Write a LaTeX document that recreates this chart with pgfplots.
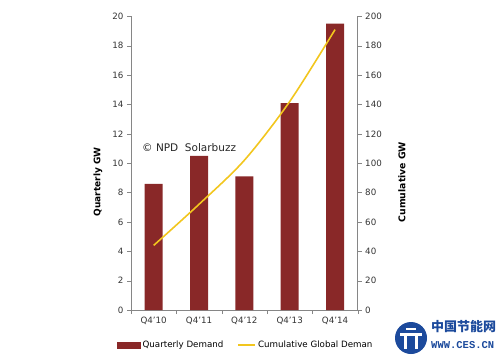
\documentclass[border=0pt]{standalone}
\usepackage{pgfplots}
\pgfplotsset{compat=1.18}
\usepackage{fontspec}
\setmainfont{DejaVu Sans}
\newfontfamily\cjk{Noto Sans CJK SC}
\newfontfamily\wmono{Liberation Mono}
\definecolor{barred}{RGB}{137,40,40}
\definecolor{lineyellow}{RGB}{242,198,30}
\definecolor{axgray}{RGB}{134,134,134}
\definecolor{cesblue}{RGB}{28,74,156}
\begin{document}
\begin{tikzpicture}
\path[use as bounding box] (0,0) rectangle (500pt,357pt);
\begin{axis}[
  at={(131pt,47pt)}, anchor=south west, scale only axis,
  width=226.7pt, height=293.6pt,
  xmin=-0.5, xmax=4.5, ymin=0, ymax=20,
  axis x line*=bottom, axis y line*=left,
  axis line style={axgray, line width=0.8pt},
  xtick={0,...,4}, xticklabels={Q4'10,Q4'11,Q4'12,Q4'13,Q4'14},
  minor xtick={-0.5,0.5,1.5,2.5,3.5,4.5},
  ytick={0,2,...,20},
  tick align=outside, major tick length=4pt, minor tick length=4pt,
  x tick style={draw=none}, minor x tick style={draw=axgray},
  y tick style={axgray},
  ticklabel style={font=\fontsize{8.7}{10}\selectfont, text=black!80},
  /pgf/number format/assume math mode=true,
  ylabel={Quarterly GW},
  ylabel style={font=\fontsize{9}{10}\selectfont\bfseries, at={(rel axis cs:-0.146,0.436)}, anchor=center},
  ybar, bar width=18pt,
]
\addplot[fill=barred, draw=none] coordinates {(0,8.6)(1,10.5)(2,9.1)(3,14.1)(4,19.5)};
\end{axis}
\begin{axis}[
  at={(131pt,47pt)}, anchor=south west, scale only axis,
  width=226.7pt, height=293.6pt,
  xmin=-0.5, xmax=4.5, ymin=0, ymax=200,
  axis y line*=right, axis x line=none,
  axis line style={axgray, line width=0.8pt},
  ytick={0,20,...,200},
  tick align=outside, major tick length=4pt,
  y tick style={axgray},
  ticklabel style={font=\fontsize{8.7}{10}\selectfont, text=black!80},
  /pgf/number format/assume math mode=true,
  ylabel={Cumulative GW},
  ylabel style={font=\fontsize{9.3}{10}\selectfont\bfseries, at={(rel axis cs:1.195,0.436)}, anchor=center},
  legend style={at={(0.507,-0.119)}, anchor=center, draw=none, fill=none,
    legend columns=2, font=\fontsize{8.7}{10}\selectfont,
    /tikz/every even column/.append style={column sep=12pt},
    inner sep=0pt},
]
\addlegendimage{legend image code/.code={\fill[barred] (-0.1cm,-0.1cm) rectangle (0.7cm,0.1cm);}}
\addlegendentry{Quarterly Demand}
\addplot[lineyellow, line width=1.6pt, smooth, no markers] coordinates {(0,44)(1,72)(2,102)(3,142)(4,191)};
\addlegendentry{Cumulative Global Deman}
\end{axis}
\node[anchor=west, font=\fontsize{10.5}{12}\selectfont, text=black!85, inner sep=0pt] at (142pt,209pt) {\textcopyright{} NPD\ \ Solarbuzz};
% watermark
\fill[cesblue] (411pt,19pt) circle (16pt);
\fill[white] (400pt,21pt) rectangle (422pt,24pt);
\fill[white] (404pt,8pt) rectangle (407pt,21pt);
\fill[white] (415pt,8pt) rectangle (418pt,21pt);
\fill[white] (406pt,27pt) rectangle (416pt,29pt);
\node[anchor=west, text=cesblue, font=\cjk\fontsize{13}{14}\selectfont\bfseries, inner sep=0pt] at (431pt,30pt) {中国节能网};
\node[anchor=west, text=cesblue, font=\wmono\bfseries\fontsize{10.5}{11}\selectfont, inner sep=0pt] at (431pt,12pt) {WWW.CES.CN};
\end{tikzpicture}
\end{document}
